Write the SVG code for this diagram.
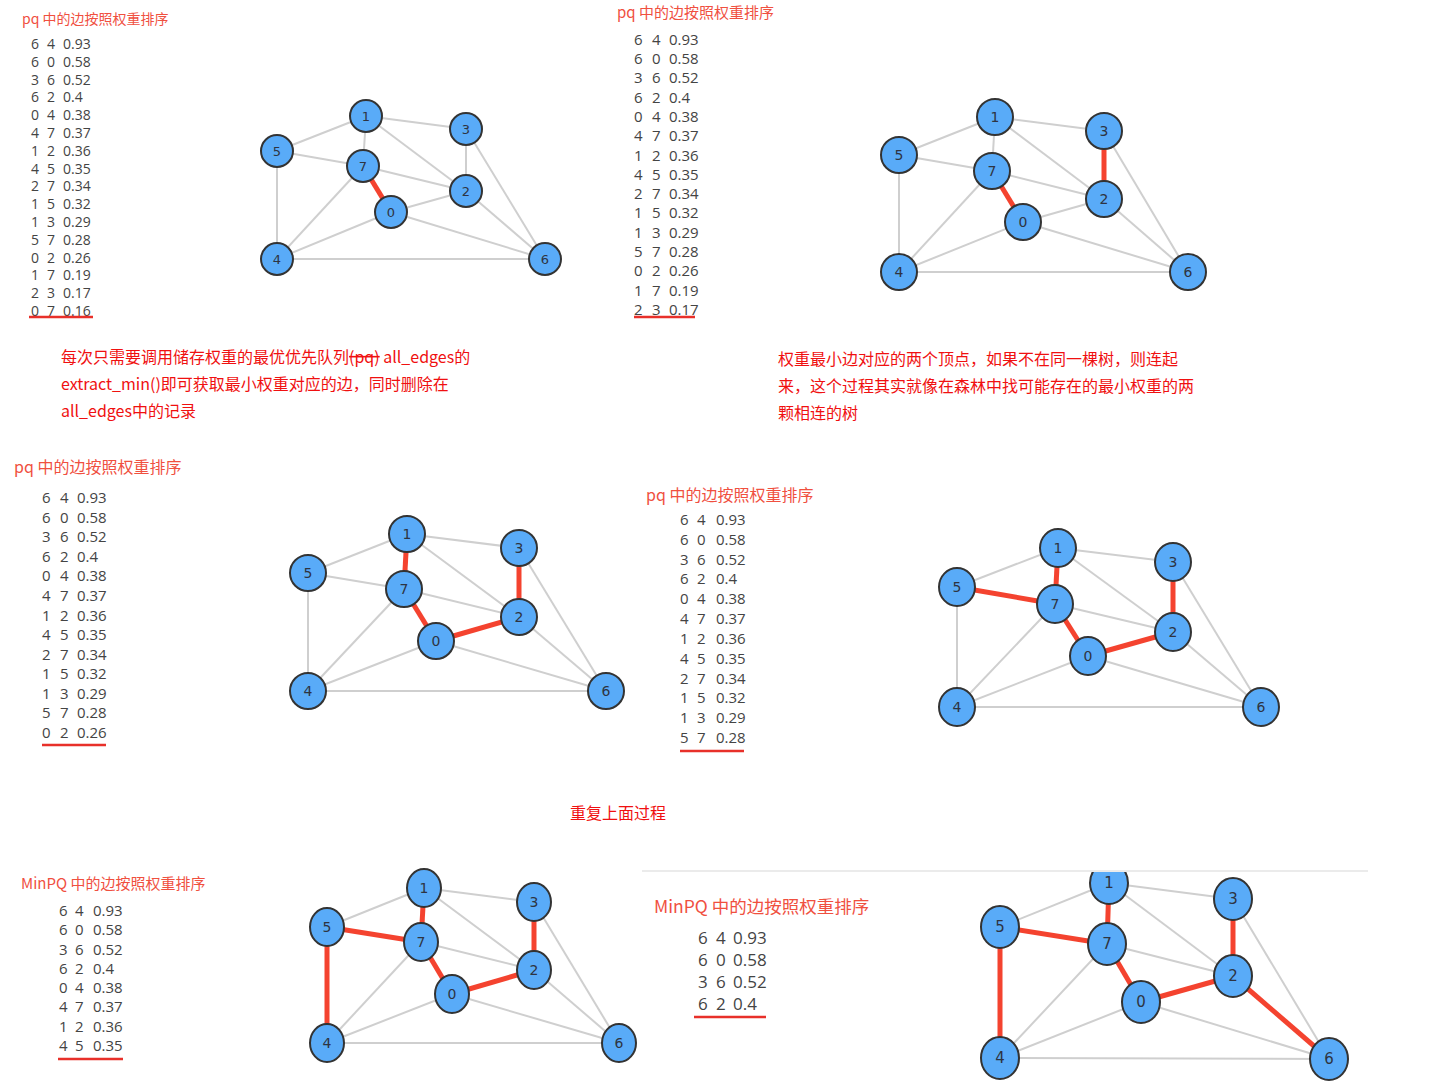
<svg xmlns="http://www.w3.org/2000/svg" width="1432" height="1089" viewBox="0 0 1432 1089">
<style>
.bg{fill:#ffffff}
.ttl{font-family:"Noto Sans CJK SC","Noto Sans",sans-serif;fill:#f0503f}
.lst{font-family:"Open Sans","DejaVu Sans",sans-serif;fill:#444444}
.note{font-family:"Noto Sans CJK SC","Noto Sans",sans-serif;font-size:16px;fill:#f01010}
.ul{stroke:#e8302a;stroke-width:2.5}
.e{stroke:#cfcfcf;stroke-width:2;fill:none}
.r{stroke:#f4432f;stroke-width:5;fill:none}
.n{fill:#59abf8;stroke:#333333;stroke-width:2}
.lb{font-family:"DejaVu Sans",sans-serif;fill:#2e3442;text-anchor:middle;dominant-baseline:central}
</style>
<defs>
<clipPath id="clip6"><rect x="640" y="872" width="792" height="217"/></clipPath>
</defs>
<rect class="bg" x="0" y="0" width="1432" height="1089"/>

<!-- ===== Panel 1 ===== -->
<g id="panel1-list">
<text class="ttl" x="22" y="24" font-size="14">pq 中的边按照权重排序</text>
<g class="lst" font-size="14">
<text y="49"><tspan x="31">6</tspan><tspan x="47">4</tspan><tspan x="63">0.93</tspan></text>
<text y="67"><tspan x="31">6</tspan><tspan x="47">0</tspan><tspan x="63">0.58</tspan></text>
<text y="85"><tspan x="31">3</tspan><tspan x="47">6</tspan><tspan x="63">0.52</tspan></text>
<text y="102"><tspan x="31">6</tspan><tspan x="47">2</tspan><tspan x="63">0.4</tspan></text>
<text y="120"><tspan x="31">0</tspan><tspan x="47">4</tspan><tspan x="63">0.38</tspan></text>
<text y="138"><tspan x="31">4</tspan><tspan x="47">7</tspan><tspan x="63">0.37</tspan></text>
<text y="156"><tspan x="31">1</tspan><tspan x="47">2</tspan><tspan x="63">0.36</tspan></text>
<text y="174"><tspan x="31">4</tspan><tspan x="47">5</tspan><tspan x="63">0.35</tspan></text>
<text y="191"><tspan x="31">2</tspan><tspan x="47">7</tspan><tspan x="63">0.34</tspan></text>
<text y="209"><tspan x="31">1</tspan><tspan x="47">5</tspan><tspan x="63">0.32</tspan></text>
<text y="227"><tspan x="31">1</tspan><tspan x="47">3</tspan><tspan x="63">0.29</tspan></text>
<text y="245"><tspan x="31">5</tspan><tspan x="47">7</tspan><tspan x="63">0.28</tspan></text>
<text y="263"><tspan x="31">0</tspan><tspan x="47">2</tspan><tspan x="63">0.26</tspan></text>
<text y="280"><tspan x="31">1</tspan><tspan x="47">7</tspan><tspan x="63">0.19</tspan></text>
<text y="298"><tspan x="31">2</tspan><tspan x="47">3</tspan><tspan x="63">0.17</tspan></text>
<text y="316"><tspan x="31">0</tspan><tspan x="47">7</tspan><tspan x="63">0.16</tspan></text>
</g>
<line class="ul" x1="29" y1="317" x2="93" y2="317"/>
</g>
<g id="panel1-edges">
<line class="e" x1="366" y1="116" x2="277" y2="151"/>
<line class="e" x1="366" y1="116" x2="466" y2="129"/>
<line class="e" x1="366" y1="116" x2="363" y2="166"/>
<line class="e" x1="366" y1="116" x2="466" y2="191"/>
<line class="e" x1="277" y1="151" x2="363" y2="166"/>
<line class="e" x1="277" y1="151" x2="277" y2="259"/>
<line class="e" x1="466" y1="129" x2="466" y2="191"/>
<line class="e" x1="466" y1="129" x2="545" y2="259"/>
<line class="e" x1="363" y1="166" x2="466" y2="191"/>
<line class="e" x1="363" y1="166" x2="277" y2="259"/>
<line class="e" x1="391" y1="212" x2="466" y2="191"/>
<line class="e" x1="391" y1="212" x2="277" y2="259"/>
<line class="e" x1="391" y1="212" x2="545" y2="259"/>
<line class="e" x1="466" y1="191" x2="545" y2="259"/>
<line class="e" x1="277" y1="259" x2="545" y2="259"/>
<line class="r" x1="363" y1="166" x2="391" y2="212"/>
</g>
<g id="panel1-nodes" font-size="13">
<g id="p1-n0"><circle class="n" cx="391" cy="212" r="16"/><text class="lb" x="391" y="212">0</text></g>
<g id="p1-n1"><circle class="n" cx="366" cy="116" r="16"/><text class="lb" x="366" y="116">1</text></g>
<g id="p1-n2"><circle class="n" cx="466" cy="191" r="16"/><text class="lb" x="466" y="191">2</text></g>
<g id="p1-n3"><circle class="n" cx="466" cy="129" r="16"/><text class="lb" x="466" y="129">3</text></g>
<g id="p1-n4"><circle class="n" cx="277" cy="259" r="16"/><text class="lb" x="277" y="259">4</text></g>
<g id="p1-n5"><circle class="n" cx="277" cy="151" r="16"/><text class="lb" x="277" y="151">5</text></g>
<g id="p1-n6"><circle class="n" cx="545" cy="259" r="16"/><text class="lb" x="545" y="259">6</text></g>
<g id="p1-n7"><circle class="n" cx="363" cy="166" r="16"/><text class="lb" x="363" y="166">7</text></g>
</g>

<!-- ===== Panel 2 ===== -->
<g id="panel2-list">
<text class="ttl" x="617" y="18" font-size="15">pq 中的边按照权重排序</text>
<g class="lst" font-size="15">
<text y="45"><tspan x="634">6</tspan><tspan x="652">4</tspan><tspan x="669">0.93</tspan></text>
<text y="64"><tspan x="634">6</tspan><tspan x="652">0</tspan><tspan x="669">0.58</tspan></text>
<text y="83"><tspan x="634">3</tspan><tspan x="652">6</tspan><tspan x="669">0.52</tspan></text>
<text y="103"><tspan x="634">6</tspan><tspan x="652">2</tspan><tspan x="669">0.4</tspan></text>
<text y="122"><tspan x="634">0</tspan><tspan x="652">4</tspan><tspan x="669">0.38</tspan></text>
<text y="141"><tspan x="634">4</tspan><tspan x="652">7</tspan><tspan x="669">0.37</tspan></text>
<text y="161"><tspan x="634">1</tspan><tspan x="652">2</tspan><tspan x="669">0.36</tspan></text>
<text y="180"><tspan x="634">4</tspan><tspan x="652">5</tspan><tspan x="669">0.35</tspan></text>
<text y="199"><tspan x="634">2</tspan><tspan x="652">7</tspan><tspan x="669">0.34</tspan></text>
<text y="218"><tspan x="634">1</tspan><tspan x="652">5</tspan><tspan x="669">0.32</tspan></text>
<text y="238"><tspan x="634">1</tspan><tspan x="652">3</tspan><tspan x="669">0.29</tspan></text>
<text y="257"><tspan x="634">5</tspan><tspan x="652">7</tspan><tspan x="669">0.28</tspan></text>
<text y="276"><tspan x="634">0</tspan><tspan x="652">2</tspan><tspan x="669">0.26</tspan></text>
<text y="296"><tspan x="634">1</tspan><tspan x="652">7</tspan><tspan x="669">0.19</tspan></text>
<text y="315"><tspan x="634">2</tspan><tspan x="652">3</tspan><tspan x="669">0.17</tspan></text>
</g>
<line class="ul" x1="634" y1="317" x2="695" y2="317"/>
</g>
<g id="panel2-edges">
<line class="e" x1="995" y1="117" x2="899" y2="155"/>
<line class="e" x1="995" y1="117" x2="1104" y2="131"/>
<line class="e" x1="995" y1="117" x2="992" y2="171"/>
<line class="e" x1="995" y1="117" x2="1104" y2="199"/>
<line class="e" x1="899" y1="155" x2="992" y2="171"/>
<line class="e" x1="899" y1="155" x2="899" y2="272"/>
<line class="e" x1="1104" y1="131" x2="1188" y2="272"/>
<line class="e" x1="992" y1="171" x2="1104" y2="199"/>
<line class="e" x1="992" y1="171" x2="899" y2="272"/>
<line class="e" x1="1023" y1="222" x2="1104" y2="199"/>
<line class="e" x1="1023" y1="222" x2="899" y2="272"/>
<line class="e" x1="1023" y1="222" x2="1188" y2="272"/>
<line class="e" x1="1104" y1="199" x2="1188" y2="272"/>
<line class="e" x1="899" y1="272" x2="1188" y2="272"/>
<line class="r" x1="992" y1="171" x2="1023" y2="222"/>
<line class="r" x1="1104" y1="131" x2="1104" y2="199"/>
</g>
<g id="panel2-nodes" font-size="14">
<g id="p2-n0"><circle class="n" cx="1023" cy="222" r="18"/><text class="lb" x="1023" y="222">0</text></g>
<g id="p2-n1"><circle class="n" cx="995" cy="117" r="18"/><text class="lb" x="995" y="117">1</text></g>
<g id="p2-n2"><circle class="n" cx="1104" cy="199" r="18"/><text class="lb" x="1104" y="199">2</text></g>
<g id="p2-n3"><circle class="n" cx="1104" cy="131" r="18"/><text class="lb" x="1104" y="131">3</text></g>
<g id="p2-n4"><circle class="n" cx="899" cy="272" r="18"/><text class="lb" x="899" y="272">4</text></g>
<g id="p2-n5"><circle class="n" cx="899" cy="155" r="18"/><text class="lb" x="899" y="155">5</text></g>
<g id="p2-n6"><circle class="n" cx="1188" cy="272" r="18"/><text class="lb" x="1188" y="272">6</text></g>
<g id="p2-n7"><circle class="n" cx="992" cy="171" r="18"/><text class="lb" x="992" y="171">7</text></g>
</g>

<!-- ===== Notes ===== -->
<g id="note1" class="note">
<text x="61" y="363">每次只需要调用储存权重的最优优先队列<tspan text-decoration="line-through">(pq)</tspan> all_edges的</text>
<text x="61" y="390">extract_min()即可获取最小权重对应的边，同时删除在</text>
<text x="61" y="417">all_edges中的记录</text>
</g>
<g id="note2" class="note">
<text x="778" y="365">权重最小边对应的两个顶点，如果不在同一棵树，则连起</text>
<text x="778" y="392">来，这个过程其实就像在森林中找可能存在的最小权重的两</text>
<text x="778" y="419">颗相连的树</text>
</g>

<!-- ===== Panel 3 ===== -->
<g id="panel3-list">
<text class="ttl" x="14" y="473" font-size="16">pq 中的边按照权重排序</text>
<g class="lst" font-size="15">
<text y="503"><tspan x="42">6</tspan><tspan x="60">4</tspan><tspan x="77">0.93</tspan></text>
<text y="523"><tspan x="42">6</tspan><tspan x="60">0</tspan><tspan x="77">0.58</tspan></text>
<text y="542"><tspan x="42">3</tspan><tspan x="60">6</tspan><tspan x="77">0.52</tspan></text>
<text y="562"><tspan x="42">6</tspan><tspan x="60">2</tspan><tspan x="77">0.4</tspan></text>
<text y="581"><tspan x="42">0</tspan><tspan x="60">4</tspan><tspan x="77">0.38</tspan></text>
<text y="601"><tspan x="42">4</tspan><tspan x="60">7</tspan><tspan x="77">0.37</tspan></text>
<text y="621"><tspan x="42">1</tspan><tspan x="60">2</tspan><tspan x="77">0.36</tspan></text>
<text y="640"><tspan x="42">4</tspan><tspan x="60">5</tspan><tspan x="77">0.35</tspan></text>
<text y="660"><tspan x="42">2</tspan><tspan x="60">7</tspan><tspan x="77">0.34</tspan></text>
<text y="679"><tspan x="42">1</tspan><tspan x="60">5</tspan><tspan x="77">0.32</tspan></text>
<text y="699"><tspan x="42">1</tspan><tspan x="60">3</tspan><tspan x="77">0.29</tspan></text>
<text y="718"><tspan x="42">5</tspan><tspan x="60">7</tspan><tspan x="77">0.28</tspan></text>
<text y="738"><tspan x="42">0</tspan><tspan x="60">2</tspan><tspan x="77">0.26</tspan></text>
</g>
<line class="ul" x1="42" y1="745" x2="106" y2="745"/>
</g>
<g id="panel3-edges">
<line class="e" x1="407" y1="534" x2="308" y2="573"/>
<line class="e" x1="407" y1="534" x2="519" y2="548"/>
<line class="e" x1="407" y1="534" x2="519" y2="617"/>
<line class="e" x1="308" y1="573" x2="404" y2="589"/>
<line class="e" x1="308" y1="573" x2="308" y2="691"/>
<line class="e" x1="519" y1="548" x2="606" y2="691"/>
<line class="e" x1="404" y1="589" x2="519" y2="617"/>
<line class="e" x1="404" y1="589" x2="308" y2="691"/>
<line class="e" x1="436" y1="641" x2="308" y2="691"/>
<line class="e" x1="436" y1="641" x2="606" y2="691"/>
<line class="e" x1="519" y1="617" x2="606" y2="691"/>
<line class="e" x1="308" y1="691" x2="606" y2="691"/>
<line class="r" x1="407" y1="534" x2="404" y2="589"/>
<line class="r" x1="404" y1="589" x2="436" y2="641"/>
<line class="r" x1="436" y1="641" x2="519" y2="617"/>
<line class="r" x1="519" y1="548" x2="519" y2="617"/>
</g>
<g id="panel3-nodes" font-size="14">
<g id="p3-n0"><circle class="n" cx="436" cy="641" r="18"/><text class="lb" x="436" y="641">0</text></g>
<g id="p3-n1"><circle class="n" cx="407" cy="534" r="18"/><text class="lb" x="407" y="534">1</text></g>
<g id="p3-n2"><circle class="n" cx="519" cy="617" r="18"/><text class="lb" x="519" y="617">2</text></g>
<g id="p3-n3"><circle class="n" cx="519" cy="548" r="18"/><text class="lb" x="519" y="548">3</text></g>
<g id="p3-n4"><circle class="n" cx="308" cy="691" r="18"/><text class="lb" x="308" y="691">4</text></g>
<g id="p3-n5"><circle class="n" cx="308" cy="573" r="18"/><text class="lb" x="308" y="573">5</text></g>
<g id="p3-n6"><circle class="n" cx="606" cy="691" r="18"/><text class="lb" x="606" y="691">6</text></g>
<g id="p3-n7"><circle class="n" cx="404" cy="589" r="18"/><text class="lb" x="404" y="589">7</text></g>
</g>

<!-- ===== Panel 4 ===== -->
<g id="panel4-list">
<text class="ttl" x="646" y="501" font-size="16">pq 中的边按照权重排序</text>
<g class="lst" font-size="15">
<text y="525"><tspan x="680">6</tspan><tspan x="697">4</tspan><tspan x="716">0.93</tspan></text>
<text y="545"><tspan x="680">6</tspan><tspan x="697">0</tspan><tspan x="716">0.58</tspan></text>
<text y="565"><tspan x="680">3</tspan><tspan x="697">6</tspan><tspan x="716">0.52</tspan></text>
<text y="584"><tspan x="680">6</tspan><tspan x="697">2</tspan><tspan x="716">0.4</tspan></text>
<text y="604"><tspan x="680">0</tspan><tspan x="697">4</tspan><tspan x="716">0.38</tspan></text>
<text y="624"><tspan x="680">4</tspan><tspan x="697">7</tspan><tspan x="716">0.37</tspan></text>
<text y="644"><tspan x="680">1</tspan><tspan x="697">2</tspan><tspan x="716">0.36</tspan></text>
<text y="664"><tspan x="680">4</tspan><tspan x="697">5</tspan><tspan x="716">0.35</tspan></text>
<text y="684"><tspan x="680">2</tspan><tspan x="697">7</tspan><tspan x="716">0.34</tspan></text>
<text y="703"><tspan x="680">1</tspan><tspan x="697">5</tspan><tspan x="716">0.32</tspan></text>
<text y="723"><tspan x="680">1</tspan><tspan x="697">3</tspan><tspan x="716">0.29</tspan></text>
<text y="743"><tspan x="680">5</tspan><tspan x="697">7</tspan><tspan x="716">0.28</tspan></text>
</g>
<line class="ul" x1="680" y1="751" x2="744" y2="751"/>
</g>
<g id="panel4-edges">
<line class="e" x1="1058" y1="548" x2="957" y2="587"/>
<line class="e" x1="1058" y1="548" x2="1173" y2="562"/>
<line class="e" x1="1058" y1="548" x2="1173" y2="632"/>
<line class="e" x1="957" y1="587" x2="957" y2="707"/>
<line class="e" x1="1173" y1="562" x2="1261" y2="707"/>
<line class="e" x1="1055" y1="604" x2="1173" y2="632"/>
<line class="e" x1="1055" y1="604" x2="957" y2="707"/>
<line class="e" x1="1088" y1="656" x2="957" y2="707"/>
<line class="e" x1="1088" y1="656" x2="1261" y2="707"/>
<line class="e" x1="1173" y1="632" x2="1261" y2="707"/>
<line class="e" x1="957" y1="707" x2="1261" y2="707"/>
<line class="r" x1="957" y1="587" x2="1055" y2="604"/>
<line class="r" x1="1058" y1="548" x2="1055" y2="604"/>
<line class="r" x1="1055" y1="604" x2="1088" y2="656"/>
<line class="r" x1="1088" y1="656" x2="1173" y2="632"/>
<line class="r" x1="1173" y1="562" x2="1173" y2="632"/>
</g>
<g id="panel4-nodes" font-size="14">
<g id="p4-n0"><ellipse class="n" cx="1088" cy="656" rx="18" ry="19"/><text class="lb" x="1088" y="656">0</text></g>
<g id="p4-n1"><ellipse class="n" cx="1058" cy="548" rx="18" ry="19"/><text class="lb" x="1058" y="548">1</text></g>
<g id="p4-n2"><ellipse class="n" cx="1173" cy="632" rx="18" ry="19"/><text class="lb" x="1173" y="632">2</text></g>
<g id="p4-n3"><ellipse class="n" cx="1173" cy="562" rx="18" ry="19"/><text class="lb" x="1173" y="562">3</text></g>
<g id="p4-n4"><ellipse class="n" cx="957" cy="707" rx="18" ry="19"/><text class="lb" x="957" y="707">4</text></g>
<g id="p4-n5"><ellipse class="n" cx="957" cy="587" rx="18" ry="19"/><text class="lb" x="957" y="587">5</text></g>
<g id="p4-n6"><ellipse class="n" cx="1261" cy="707" rx="18" ry="19"/><text class="lb" x="1261" y="707">6</text></g>
<g id="p4-n7"><ellipse class="n" cx="1055" cy="604" rx="18" ry="19"/><text class="lb" x="1055" y="604">7</text></g>
</g>

<g id="note3" class="note"><text x="570" y="819">重复上面过程</text></g>

<!-- ===== Panel 5 ===== -->
<g id="panel5-list">
<text class="ttl" x="21" y="889" font-size="15">MinPQ 中的边按照权重排序</text>
<g class="lst" font-size="15">
<text y="916"><tspan x="59">6</tspan><tspan x="75">4</tspan><tspan x="93">0.93</tspan></text>
<text y="935"><tspan x="59">6</tspan><tspan x="75">0</tspan><tspan x="93">0.58</tspan></text>
<text y="955"><tspan x="59">3</tspan><tspan x="75">6</tspan><tspan x="93">0.52</tspan></text>
<text y="974"><tspan x="59">6</tspan><tspan x="75">2</tspan><tspan x="93">0.4</tspan></text>
<text y="993"><tspan x="59">0</tspan><tspan x="75">4</tspan><tspan x="93">0.38</tspan></text>
<text y="1012"><tspan x="59">4</tspan><tspan x="75">7</tspan><tspan x="93">0.37</tspan></text>
<text y="1032"><tspan x="59">1</tspan><tspan x="75">2</tspan><tspan x="93">0.36</tspan></text>
<text y="1051"><tspan x="59">4</tspan><tspan x="75">5</tspan><tspan x="93">0.35</tspan></text>
</g>
<line class="ul" x1="58" y1="1059" x2="123" y2="1059"/>
</g>
<g id="panel5-edges">
<line class="e" x1="424" y1="888" x2="327" y2="927"/>
<line class="e" x1="424" y1="888" x2="534" y2="902"/>
<line class="e" x1="424" y1="888" x2="534" y2="970"/>
<line class="e" x1="534" y1="902" x2="619" y2="1043"/>
<line class="e" x1="421" y1="942" x2="534" y2="970"/>
<line class="e" x1="421" y1="942" x2="327" y2="1043"/>
<line class="e" x1="452" y1="994" x2="327" y2="1043"/>
<line class="e" x1="452" y1="994" x2="619" y2="1043"/>
<line class="e" x1="534" y1="970" x2="619" y2="1043"/>
<line class="e" x1="327" y1="1043" x2="619" y2="1043"/>
<line class="r" x1="327" y1="927" x2="421" y2="942"/>
<line class="r" x1="327" y1="927" x2="327" y2="1043"/>
<line class="r" x1="424" y1="888" x2="421" y2="942"/>
<line class="r" x1="421" y1="942" x2="452" y2="994"/>
<line class="r" x1="452" y1="994" x2="534" y2="970"/>
<line class="r" x1="534" y1="902" x2="534" y2="970"/>
</g>
<g id="panel5-nodes" font-size="14">
<g id="p5-n0"><ellipse class="n" cx="452" cy="994" rx="17" ry="19"/><text class="lb" x="452" y="994">0</text></g>
<g id="p5-n1"><ellipse class="n" cx="424" cy="888" rx="17" ry="19"/><text class="lb" x="424" y="888">1</text></g>
<g id="p5-n2"><ellipse class="n" cx="534" cy="970" rx="17" ry="19"/><text class="lb" x="534" y="970">2</text></g>
<g id="p5-n3"><ellipse class="n" cx="534" cy="902" rx="17" ry="19"/><text class="lb" x="534" y="902">3</text></g>
<g id="p5-n4"><ellipse class="n" cx="327" cy="1043" rx="17" ry="19"/><text class="lb" x="327" y="1043">4</text></g>
<g id="p5-n5"><ellipse class="n" cx="327" cy="927" rx="17" ry="19"/><text class="lb" x="327" y="927">5</text></g>
<g id="p5-n6"><ellipse class="n" cx="619" cy="1043" rx="17" ry="19"/><text class="lb" x="619" y="1043">6</text></g>
<g id="p5-n7"><ellipse class="n" cx="421" cy="942" rx="17" ry="19"/><text class="lb" x="421" y="942">7</text></g>
</g>

<!-- ===== Panel 6 ===== -->
<line id="rule6" x1="642" y1="871" x2="1368" y2="871" stroke="#e4e4e4" stroke-width="1.5"/>
<g id="panel6-list">
<text class="ttl" x="654" y="913" font-size="17.5">MinPQ 中的边按照权重排序</text>
<g class="lst" font-size="17">
<text y="944"><tspan x="698">6</tspan><tspan x="716">4</tspan><tspan x="733">0.93</tspan></text>
<text y="966"><tspan x="698">6</tspan><tspan x="716">0</tspan><tspan x="733">0.58</tspan></text>
<text y="988"><tspan x="698">3</tspan><tspan x="716">6</tspan><tspan x="733">0.52</tspan></text>
<text y="1010"><tspan x="698">6</tspan><tspan x="716">2</tspan><tspan x="733">0.4</tspan></text>
</g>
<line class="ul" x1="694" y1="1017" x2="766" y2="1017"/>
</g>
<g id="panel6-edges" clip-path="url(#clip6)">
<line class="e" x1="1109" y1="883" x2="1000" y2="927"/>
<line class="e" x1="1109" y1="883" x2="1233" y2="899"/>
<line class="e" x1="1109" y1="883" x2="1233" y2="976"/>
<line class="e" x1="1233" y1="899" x2="1329" y2="1059"/>
<line class="e" x1="1107" y1="944" x2="1233" y2="976"/>
<line class="e" x1="1107" y1="944" x2="1000" y2="1058"/>
<line class="e" x1="1141" y1="1002" x2="1000" y2="1058"/>
<line class="e" x1="1141" y1="1002" x2="1329" y2="1059"/>
<line class="e" x1="1000" y1="1058" x2="1329" y2="1059"/>
<line class="r" x1="1000" y1="927" x2="1107" y2="944"/>
<line class="r" x1="1000" y1="927" x2="1000" y2="1058"/>
<line class="r" x1="1109" y1="883" x2="1107" y2="944"/>
<line class="r" x1="1107" y1="944" x2="1141" y2="1002"/>
<line class="r" x1="1141" y1="1002" x2="1233" y2="976"/>
<line class="r" x1="1233" y1="899" x2="1233" y2="976"/>
<line class="r" x1="1233" y1="976" x2="1329" y2="1059"/>
</g>
<g id="panel6-nodes" font-size="15" clip-path="url(#clip6)">
<g id="p6-n0"><ellipse class="n" cx="1141" cy="1002" rx="19" ry="21"/><text class="lb" x="1141" y="1002">0</text></g>
<g id="p6-n1"><ellipse class="n" cx="1109" cy="883" rx="19" ry="21"/><text class="lb" x="1109" y="883">1</text></g>
<g id="p6-n2"><ellipse class="n" cx="1233" cy="976" rx="19" ry="21"/><text class="lb" x="1233" y="976">2</text></g>
<g id="p6-n3"><ellipse class="n" cx="1233" cy="899" rx="19" ry="21"/><text class="lb" x="1233" y="899">3</text></g>
<g id="p6-n4"><ellipse class="n" cx="1000" cy="1058" rx="19" ry="21"/><text class="lb" x="1000" y="1058">4</text></g>
<g id="p6-n5"><ellipse class="n" cx="1000" cy="927" rx="19" ry="21"/><text class="lb" x="1000" y="927">5</text></g>
<g id="p6-n6"><ellipse class="n" cx="1329" cy="1059" rx="19" ry="21"/><text class="lb" x="1329" y="1059">6</text></g>
<g id="p6-n7"><ellipse class="n" cx="1107" cy="944" rx="19" ry="21"/><text class="lb" x="1107" y="944">7</text></g>
</g>
</svg>
